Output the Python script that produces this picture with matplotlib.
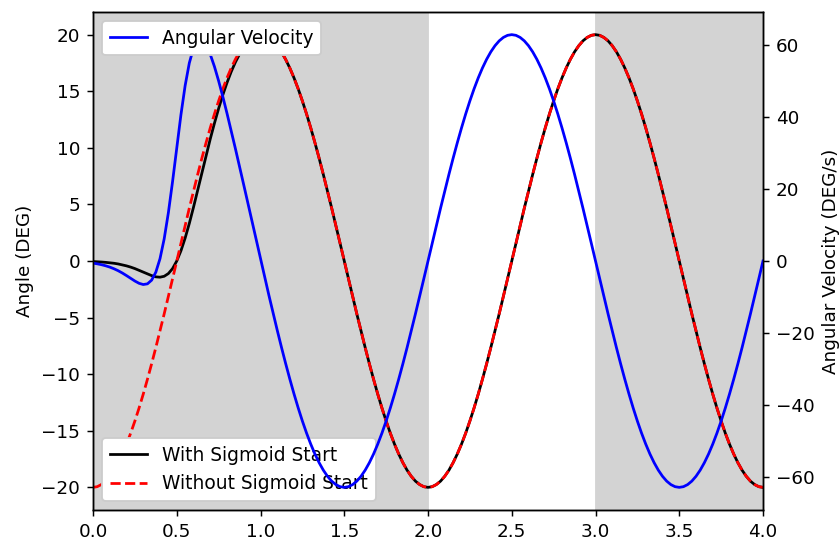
import matplotlib
matplotlib.use("Agg")
import matplotlib.pyplot as plt

# time samples (s)
time = [0.000, 0.025, 0.050, 0.075, 0.100, 0.125, 0.150, 0.175, 0.200, 0.225,
        0.250, 0.275, 0.300, 0.325, 0.350, 0.375, 0.400, 0.425, 0.450, 0.475,
        0.500, 0.525, 0.550, 0.575, 0.600, 0.625, 0.650, 0.675, 0.700, 0.725,
        0.750, 0.775, 0.800, 0.825, 0.850, 0.875, 0.900, 0.925, 0.950, 0.975,
        1.000, 1.025, 1.050, 1.075, 1.100, 1.125, 1.150, 1.175, 1.200, 1.225,
        1.250, 1.275, 1.300, 1.325, 1.350, 1.375, 1.400, 1.425, 1.450, 1.475,
        1.500, 1.525, 1.550, 1.575, 1.600, 1.625, 1.650, 1.675, 1.700, 1.725,
        1.750, 1.775, 1.800, 1.825, 1.850, 1.875, 1.900, 1.925, 1.950, 1.975,
        2.000, 2.025, 2.050, 2.075, 2.100, 2.125, 2.150, 2.175, 2.200, 2.225,
        2.250, 2.275, 2.300, 2.325, 2.350, 2.375, 2.400, 2.425, 2.450, 2.475,
        2.500, 2.525, 2.550, 2.575, 2.600, 2.625, 2.650, 2.675, 2.700, 2.725,
        2.750, 2.775, 2.800, 2.825, 2.850, 2.875, 2.900, 2.925, 2.950, 2.975,
        3.000, 3.025, 3.050, 3.075, 3.100, 3.125, 3.150, 3.175, 3.200, 3.225,
        3.250, 3.275, 3.300, 3.325, 3.350, 3.375, 3.400, 3.425, 3.450, 3.475,
        3.500, 3.525, 3.550, 3.575, 3.600, 3.625, 3.650, 3.675, 3.700, 3.725,
        3.750, 3.775, 3.800, 3.825, 3.850, 3.875, 3.900, 3.925, 3.950, 3.975,
        4.000]

# angle without sigmoid start (DEG)
angle_plain = [
    -20.00, -19.94, -19.75, -19.45, -19.02, -18.48, -17.82, -17.05, -16.18, -15.21,
    -14.14, -12.99, -11.76, -10.45, -9.08, -7.65, -6.18, -4.67, -3.13, -1.57,
    0.00, 1.57, 3.13, 4.67, 6.18, 7.65, 9.08, 10.45, 11.76, 12.99,
    14.14, 15.21, 16.18, 17.05, 17.82, 18.48, 19.02, 19.45, 19.75, 19.94,
    20.00, 19.94, 19.75, 19.45, 19.02, 18.48, 17.82, 17.05, 16.18, 15.21,
    14.14, 12.99, 11.76, 10.45, 9.08, 7.65, 6.18, 4.67, 3.13, 1.57,
    0.00, -1.57, -3.13, -4.67, -6.18, -7.65, -9.08, -10.45, -11.76, -12.99,
    -14.14, -15.21, -16.18, -17.05, -17.82, -18.48, -19.02, -19.45, -19.75, -19.94,
    -20.00, -19.94, -19.75, -19.45, -19.02, -18.48, -17.82, -17.05, -16.18, -15.21,
    -14.14, -12.99, -11.76, -10.45, -9.08, -7.65, -6.18, -4.67, -3.13, -1.57,
    0.00, 1.57, 3.13, 4.67, 6.18, 7.65, 9.08, 10.45, 11.76, 12.99,
    14.14, 15.21, 16.18, 17.05, 17.82, 18.48, 19.02, 19.45, 19.75, 19.94,
    20.00, 19.94, 19.75, 19.45, 19.02, 18.48, 17.82, 17.05, 16.18, 15.21,
    14.14, 12.99, 11.76, 10.45, 9.08, 7.65, 6.18, 4.67, 3.13, 1.57,
    0.00, -1.57, -3.13, -4.67, -6.18, -7.65, -9.08, -10.45, -11.76, -12.99,
    -14.14, -15.21, -16.18, -17.05, -17.82, -18.48, -19.02, -19.45, -19.75, -19.94,
    -20.00]

# angle with sigmoid start (DEG)
angle_sigmoid = [
    -0.05, -0.07, -0.09, -0.12, -0.16, -0.20, -0.26, -0.34, -0.43, -0.54,
    -0.67, -0.82, -0.98, -1.14, -1.29, -1.40, -1.43, -1.35, -1.11, -0.67,
    0.00, 0.90, 2.02, 3.32, 4.75, 6.26, 7.79, 9.31, 10.78, 12.17,
    13.47, 14.67, 15.75, 16.72, 17.56, 18.28, 18.87, 19.33, 19.67, 19.87,
    19.95, 19.90, 19.73, 19.43, 19.01, 18.47, 17.81, 17.05, 16.18, 15.21,
    14.14, 12.99, 11.76, 10.45, 9.08, 7.65, 6.18, 4.67, 3.13, 1.57,
    0.00, -1.57, -3.13, -4.67, -6.18, -7.65, -9.08, -10.45, -11.76, -12.99,
    -14.14, -15.21, -16.18, -17.05, -17.82, -18.48, -19.02, -19.45, -19.75, -19.94,
    -20.00, -19.94, -19.75, -19.45, -19.02, -18.48, -17.82, -17.05, -16.18, -15.21,
    -14.14, -12.99, -11.76, -10.45, -9.08, -7.65, -6.18, -4.67, -3.13, -1.57,
    0.00, 1.57, 3.13, 4.67, 6.18, 7.65, 9.08, 10.45, 11.76, 12.99,
    14.14, 15.21, 16.18, 17.05, 17.82, 18.48, 19.02, 19.45, 19.75, 19.94,
    20.00, 19.94, 19.75, 19.45, 19.02, 18.48, 17.82, 17.05, 16.18, 15.21,
    14.14, 12.99, 11.76, 10.45, 9.08, 7.65, 6.18, 4.67, 3.13, 1.57,
    0.00, -1.57, -3.13, -4.67, -6.18, -7.65, -9.08, -10.45, -11.76, -12.99,
    -14.14, -15.21, -16.18, -17.05, -17.82, -18.48, -19.02, -19.45, -19.75, -19.94,
    -20.00]

# angular velocity (DEG/s)
ang_velocity = [
    -0.59, -0.78, -1.02, -1.32, -1.69, -2.15, -2.69, -3.33, -4.05, -4.81,
    -5.56, -6.19, -6.53, -6.34, -5.32, -3.11, 0.64, 6.15, 13.40, 22.05,
    31.42, 40.59, 48.66, 54.95, 59.12, 61.16, 61.31, 59.92, 57.36, 53.97,
    49.99, 45.62, 40.98, 36.16, 31.22, 26.19, 21.11, 15.99, 10.85, 5.71,
    0.59, -4.48, -9.49, -14.42, -19.23, -23.91, -28.43, -32.76, -36.88, -40.77,
    -44.41, -47.77, -50.83, -53.57, -55.98, -58.05, -59.76, -61.10, -62.06, -62.64,
    -62.83, -62.64, -62.06, -61.10, -59.76, -58.05, -55.98, -53.57, -50.83, -47.78,
    -44.43, -40.81, -36.93, -32.83, -28.53, -24.05, -19.42, -14.67, -9.83, -4.93,
    0.00, 4.93, 9.83, 14.67, 19.42, 24.05, 28.53, 32.83, 36.93, 40.81,
    44.43, 47.78, 50.83, 53.57, 55.98, 58.05, 59.76, 61.10, 62.06, 62.64,
    62.83, 62.64, 62.06, 61.10, 59.76, 58.05, 55.98, 53.57, 50.83, 47.78,
    44.43, 40.81, 36.93, 32.83, 28.53, 24.05, 19.42, 14.67, 9.83, 4.93,
    0.00, -4.93, -9.83, -14.67, -19.42, -24.05, -28.53, -32.83, -36.93, -40.81,
    -44.43, -47.78, -50.83, -53.57, -55.98, -58.05, -59.76, -61.10, -62.06, -62.64,
    -62.83, -62.64, -62.06, -61.10, -59.76, -58.05, -55.98, -53.57, -50.83, -47.78,
    -44.43, -40.81, -36.93, -32.83, -28.53, -24.05, -19.42, -14.67, -9.83, -4.93,
    0.00]

# shaded intervals
shaded_spans = [(0.0, 2.0), (3.0, 4.0)]
x_ticks = [0.0, 0.5, 1.0, 1.5, 2.0, 2.5, 3.0, 3.5, 4.0]

DPI = 132
fig = plt.figure(figsize=(840 / DPI, 543 / DPI), dpi=DPI)
ax1 = fig.add_axes([93 / 840, 1 - 510 / 543, 670 / 840, 498 / 543])

for a, b in shaded_spans:
    ax1.axvspan(a, b, color="lightgray", zorder=0)

ax1.plot(time, angle_sigmoid, color="black", linewidth=1.5, label="With Sigmoid Start")
ax1.plot(time, angle_plain, color="red", linestyle="--", linewidth=1.5, label="Without Sigmoid Start")
ax1.set_ylabel("Angle (DEG)")
ax1.set_xlim(0, 4)
ax1.set_xticks(x_ticks)
ax1.legend(loc="lower left", framealpha=1.0, fontsize=10.2)

ax2 = ax1.twinx()
ax2.plot(time, ang_velocity, color="blue", linewidth=1.5, label="Angular Velocity")
ax2.set_ylabel("Angular Velocity (DEG/s)")
ax2.legend(loc="upper left", framealpha=1.0, fontsize=10.2)
ax2.set_xlim(0, 4)

fig.savefig("out.png", dpi=DPI)
